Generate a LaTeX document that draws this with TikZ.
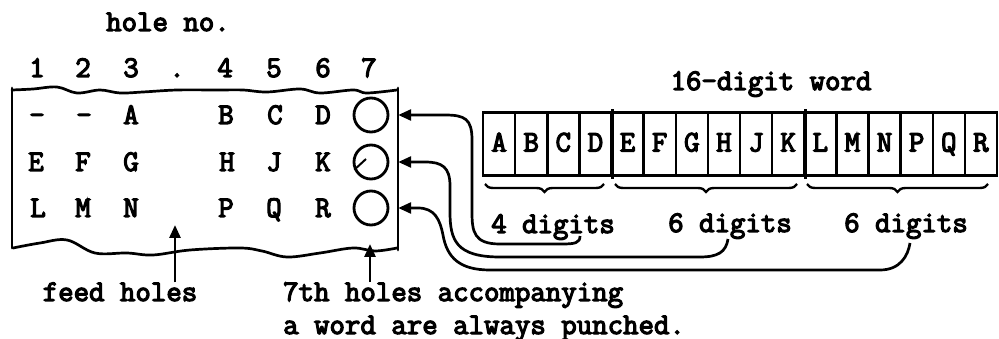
\documentclass[tikz,border=0pt]{standalone}
\usepackage{fontspec}
\newfontfamily\tw{Latin Modern Mono}[FakeBold=4]
\usetikzlibrary{arrows.meta,decorations.pathreplacing,calc}
\begin{document}
\begin{tikzpicture}[x=1pt,y=-1pt,
  txt/.style={font=\fontsize{30}{32}\selectfont\tw, inner sep=0pt, anchor=base},
  ltr/.style={font=\fontsize{30}{32}\selectfont\tw, inner sep=0pt, anchor=base},
  cell/.style={draw, line width=2.5pt, minimum width=32.125pt, minimum height=63pt,
    inner sep=0pt, text height=15pt, text depth=0pt,
    font=\fontsize{30}{32}\selectfont\tw},
  hole/.style={circle, draw, line width=2.8pt, minimum size=34pt, inner sep=0pt},
  edge/.style={line width=2.7pt, line cap=round, line join=round},
  conn/.style={line width=2.7pt, -{Triangle[length=13pt,width=11pt]}},
  brc/.style={line width=2.4pt, decorate, decoration={brace, amplitude=8pt}}
]
\useasboundingbox (0,0) rectangle (999,339);

% titles
\node[txt] (holeno) at (168,31) {hole no.};
\node[txt] (word16) at (771,90) {16-digit word};

% hole numbers
\foreach \n/\x in {1/37,2/83,3/131,./177,4/225,5/274,6/323,7/369}
  \node[txt] at (\x,77) {\n};

% tape outline
\node[minimum width=386pt, minimum height=160pt, inner sep=0pt] (tape) at (205,170) {};
\draw[edge] plot[smooth, tension=0.6] coordinates {(12,90) (33,89) (57,87) (77,93) (100,90) (120,93) (143,92) (177,90) (217,90) (243,90) (267,92) (300,89) (320,93) (353,90) (367,93) (397,90)};
\draw[edge] plot[smooth, tension=0.6] coordinates {(13,248) (40,243) (67,240) (95,253) (127,253) (153,255) (190,250) (240,248) (262,251) (287,257) (320,253) (353,248) (375,251) (397,248)};
\draw[edge] (12,88) -- (12,248);
\draw[edge] (398,88) -- (398,250);

% tape letters
\foreach \t/\x/\y in {-/37/124,-/84/124,A/131/124,B/226/124,C/275/124,D/323/124,
  E/36/171,F/83/171,G/131/171,H/227/171,J/274/171,K/323/171,
  L/38/217,M/83/217,N/131/217,P/226/217,Q/274/217,R/323/217}
  \node[ltr] at (\x,\y) {\t};

% 7th holes
\node[hole] (c1) at (371,115) {};
\node[hole] (c2) at (371,162) {};
\node[hole] (c3) at (371,208) {};
\draw[line width=2pt] (c2.205) -- ($(c2.center)+(-5,-3)$);

% 16-digit word
\foreach \t [count=\i] in {A,B,C,D,E,F,G,H,J,K,L,M,N,P,Q,R}
  \node[cell] (w\i) at ({483+32.125*(\i-0.5)},144) {\t};
\draw[line width=3.2pt] ($(w4.north east)+(0,-2)$) -- ($(w4.south east)+(0,2)$);
\draw[line width=3.2pt] ($(w10.north east)+(0,-2)$) -- ($(w10.south east)+(0,2)$);

% braces
\draw[brc] (604,184) -- (485,184);
\draw[brc] (797,184) -- (615,184);
\draw[brc] (988,184) -- (807,184);

\node[txt] (d1) at (553,233) {4 digits};
\node[txt] (d2) at (730,232) {6 digits};
\node[txt] (d3) at (906,232) {6 digits};

% connectors from digit groups to the 7th holes
\coordinate (s1) at (580,236);
\coordinate (s2) at (728,239);
\coordinate (s3) at (910,243);
\draw[conn] (s1) .. controls (580,243) and (575,244) .. (562,244) -- (500,244)
  .. controls (474,244) and (472,232) .. (472,212) -- (472,140)
  .. controls (472,119) and (465,115) .. (445,115) -- (tape.east |- c1.center);
\draw[conn] (s2) .. controls (726,252) and (718,257) .. (700,257) -- (500,257)
  .. controls (456,257) and (450,240) .. (450,212) -- (450,186)
  .. controls (450,167) and (442,162) .. (425,162) -- (tape.east |- c2.center);
\draw[conn] (s3) .. controls (908,256) and (900,270) .. (880,270) -- (490,270)
  .. controls (460,270) and (447,258) .. (443,235)
  .. controls (440,220) and (435,208) .. (418,208) -- (tape.east |- c3.center);

% bottom labels
\node[txt] (feed) at (120,301) {feed holes};
\coordinate (fh) at (175,225);
\draw[conn] (feed.north -| fh) -- (fh);

\node[txt, anchor=base west] (seven) at (283,301) {7th holes accompanying};
\node[txt, anchor=base west] (seven2) at (283,334) {a word are always punched.};
\coordinate (sh) at (370,244);
\draw[conn] (seven.north -| sh) -- (sh);
\end{tikzpicture}
\end{document}
